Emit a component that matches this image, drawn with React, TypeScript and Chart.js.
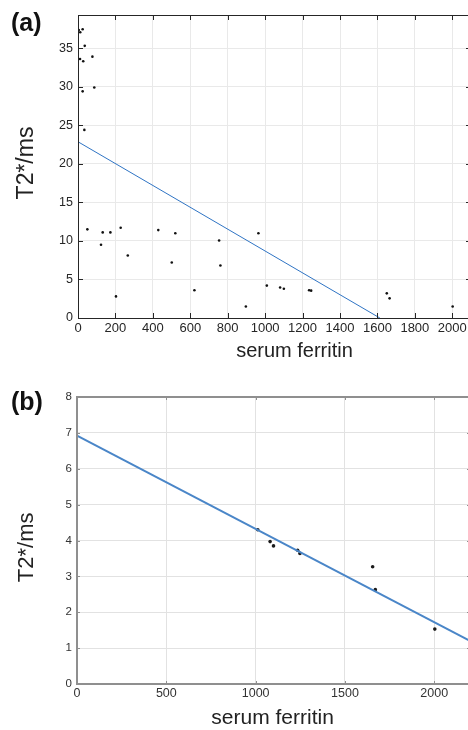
import React, { useEffect, useRef } from "react";
import { Chart, registerables } from "chart.js";

Chart.register(...registerables);

// ---- Panel (a) data ----
const ferritinA = [4, 12, 25, 36, 11, 28, 77, 87, 25, 34, 50, 123, 132, 173, 228, 266, 203, 429, 520, 501, 622, 754, 761, 964, 897, 1009, 1080, 1100, 1235, 1246, 1650, 1665, 2002];
const t2A = [37.36, 37.06, 37.45, 35.3, 33.6, 33.3, 33.9, 29.9, 29.4, 24.4, 11.5, 9.5, 11.1, 11.1, 11.7, 8.1, 2.8, 11.4, 11.0, 7.2, 3.6, 10.05, 6.8, 11.0, 1.5, 4.2, 3.95, 3.8, 3.6, 3.55, 3.2, 2.55, 1.5];
const fitXA = [0, 1613];
const fitYA = [22.86, 0];
const xTicksA = [0, 200, 400, 600, 800, 1000, 1200, 1400, 1600, 1800, 2000];
const yTicksA = [0, 5, 10, 15, 20, 25, 30, 35];

// ---- Panel (b) data ----
const ferritinB = [1012, 1081, 1100, 1235, 1248, 1655, 1670, 2003];
const t2B = [4.3, 3.97, 3.85, 3.73, 3.64, 3.27, 2.63, 1.53];
const fitXB = [0, 2200];
const fitYB = [6.92, 1.2];
const xTicksB = [0, 500, 1000, 1500, 2000];
const yTicksB = [0, 1, 2, 3, 4, 5, 6, 7, 8];

const toPts = (xs: number[], ys: number[]) => xs.map((x, i) => ({ x, y: ys[i] }));

const framePlugin = {
  id: "frame",
  afterDraw(chart: any, _args: any, opts: any) {
    const { ctx, chartArea } = chart;
    const { left, top, right, bottom } = chartArea;
    const xs = chart.scales.x;
    const ys = chart.scales.y;
    ctx.save();
    ctx.strokeStyle = opts.tickColor;
    ctx.lineWidth = 1;
    const len = opts.tickLen;
    ctx.beginPath();
    xs.ticks.forEach((t: any) => {
      const p = Math.round(xs.getPixelForValue(t.value)) + 0.5;
      ctx.moveTo(p, bottom);
      ctx.lineTo(p, bottom - len);
      ctx.moveTo(p, top);
      ctx.lineTo(p, top + len);
    });
    ys.ticks.forEach((t: any) => {
      const p = Math.round(ys.getPixelForValue(t.value)) + 0.5;
      ctx.moveTo(left, p);
      ctx.lineTo(left + len, p);
      ctx.moveTo(right, p);
      ctx.lineTo(right - len, p);
    });
    ctx.stroke();
    ctx.strokeStyle = opts.color;
    ctx.lineWidth = opts.width;
    const off = opts.width % 2 === 1 ? 0.5 : 0;
    ctx.strokeRect(Math.round(left) + off, Math.round(top) + off, Math.round(right - left), Math.round(bottom - top));
    ctx.restore();
  },
};

const textPlugin = {
  id: "texts",
  afterDraw(chart: any, _args: any, opts: any) {
    const { ctx } = chart;
    ctx.save();
    (opts.items || []).forEach((it: any) => {
      ctx.save();
      ctx.font = it.font;
      ctx.fillStyle = it.color || "#222";
      ctx.textAlign = it.align || "center";
      ctx.textBaseline = "alphabetic";
      ctx.translate(it.x, it.y);
      if (it.rotate) ctx.rotate(it.rotate);
      ctx.fillText(it.text, 0, 0);
      ctx.restore();
    });
    ctx.restore();
  },
};

function makeConfig(p: {
  pts: { x: number; y: number }[];
  fit: { x: number; y: number }[];
  xMax: number;
  yMax: number;
  xTicks: number[];
  yTicks: number[];
  padTop: number;
  padRight: number;
  yWidth: number;
  xHeight: number;
  pointR: number;
  pointColor: string;
  lineColor: string;
  lineWidth: number;
  gridColor: string;
  labelColor: string;
  xFont: number;
  yFont: number;
  xPad: number;
  yPad: number;
  frame: any;
  texts: any[];
}): any {
  const family = "Liberation Sans, Arial, sans-serif";
  return {
    type: "scatter",
    data: {
      datasets: [
        {
          type: "line",
          data: p.fit,
          borderColor: p.lineColor,
          borderWidth: p.lineWidth,
          pointRadius: 0,
          fill: false,
          tension: 0,
        },
        {
          data: p.pts,
          pointRadius: p.pointR,
          pointBackgroundColor: p.pointColor,
          pointBorderWidth: 0,
          borderColor: p.pointColor,
        },
      ],
    },
    options: {
      responsive: false,
      animation: false,
      devicePixelRatio: 1,
      layout: { padding: { left: 0, top: p.padTop, right: p.padRight, bottom: 0 } },
      plugins: {
        legend: { display: false },
        tooltip: { enabled: false },
        frame: p.frame,
        texts: { items: p.texts },
      },
      scales: {
        x: {
          type: "linear",
          min: 0,
          max: p.xMax,
          border: { display: false },
          grid: { color: p.gridColor, drawTicks: false, lineWidth: 1 },
          ticks: {
            padding: p.xPad,
            color: p.labelColor,
            font: { family, size: p.xFont },
            maxRotation: 0,
            autoSkip: false,
            callback: (v: any) => String(v),
          },
          afterBuildTicks: (s: any) => {
            s.ticks = p.xTicks.map((v) => ({ value: v }));
          },
          afterFit: (s: any) => {
            s.height = p.xHeight;
          },
        },
        y: {
          type: "linear",
          min: 0,
          max: p.yMax,
          border: { display: false },
          grid: { color: p.gridColor, drawTicks: false, lineWidth: 1 },
          ticks: {
            padding: p.yPad,
            color: p.labelColor,
            font: { family, size: p.yFont },
            autoSkip: false,
            callback: (v: any) => String(v),
          },
          afterBuildTicks: (s: any) => {
            s.ticks = p.yTicks.map((v) => ({ value: v }));
          },
          afterFit: (s: any) => {
            s.width = p.yWidth;
          },
        },
      },
    },
    plugins: [framePlugin, textPlugin],
  };
}

export default function App() {
  const refA = useRef<HTMLCanvasElement>(null);
  const refB = useRef<HTMLCanvasElement>(null);

  useEffect(() => {
    const font = "Liberation Sans, Arial, sans-serif";
    const chartA = new Chart(
      refA.current as HTMLCanvasElement,
      makeConfig({
        pts: toPts(ferritinA, t2A),
        fit: toPts(fitXA, fitYA),
        xMax: 2100,
        yMax: 39.3,
        xTicks: xTicksA,
        yTicks: yTicksA,
        padTop: 15,
        padRight: 9,
        yWidth: 78,
        xHeight: 52,
        pointR: 1.3,
        pointColor: "#111111",
        lineColor: "#2f74c4",
        lineWidth: 1,
        gridColor: "#e9e9e9",
        labelColor: "#262626",
        xFont: 13,
        yFont: 12.5,
        xPad: 3,
        yPad: 5,
        frame: { color: "#262626", width: 1, tickLen: 5, tickColor: "#262626" },
        texts: [
          { text: "(a)", x: 11, y: 31, font: `bold 25px ${font}`, align: "left", color: "#111" },
          { text: "serum ferritin", x: 294.5, y: 357, font: `20px ${font}`, color: "#222" },
          { text: "T2*/ms", x: 33, y: 163, font: `23px ${font}`, rotate: -Math.PI / 2, color: "#222" },
        ],
      })
    );
    const chartB = new Chart(
      refB.current as HTMLCanvasElement,
      makeConfig({
        pts: toPts(ferritinB, t2B),
        fit: toPts(fitXB, fitYB),
        xMax: 2200,
        yMax: 8,
        xTicks: xTicksB,
        yTicks: yTicksB,
        padTop: 17,
        padRight: 10,
        yWidth: 77,
        xHeight: 46,
        pointR: 1.8,
        pointColor: "#1a1a1a",
        lineColor: "#4a86c8",
        lineWidth: 2,
        gridColor: "#e2e2e2",
        labelColor: "#333333",
        xFont: 12.5,
        yFont: 11.5,
        xPad: 2,
        yPad: 5,
        frame: { color: "#8f8f8f", width: 2, tickLen: 3, tickColor: "#8f8f8f" },
        texts: [
          { text: "(b)", x: 11, y: 29.5, font: `bold 25px ${font}`, align: "left", color: "#111" },
          { text: "serum ferritin", x: 272.6, y: 344, font: `21px ${font}`, color: "#222" },
          { text: "T2*/ms", x: 33, y: 167.3, font: `22px ${font}`, rotate: -Math.PI / 2, color: "#222" },
        ],
      })
    );
    return () => {
      chartA.destroy();
      chartB.destroy();
    };
  }, []);

  return (
    <div
      style={{
        position: "absolute",
        left: 0,
        top: 0,
        width: 468,
        height: 730,
        overflow: "hidden",
        background: "#ffffff",
      }}
    >
      <canvas ref={refA} width={480} height={370} style={{ position: "absolute", left: 0, top: 0, width: 480, height: 370 }} />
      <canvas ref={refB} width={480} height={350} style={{ position: "absolute", left: 0, top: 380, width: 480, height: 350 }} />
    </div>
  );
}
